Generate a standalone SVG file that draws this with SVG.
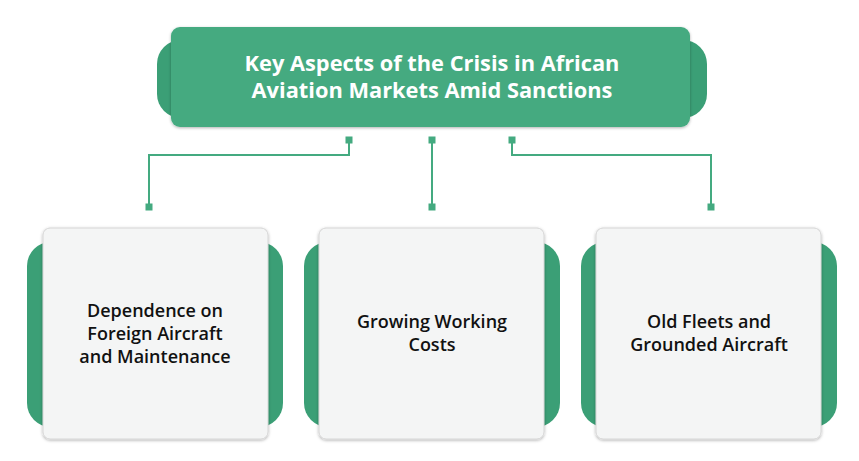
<svg xmlns="http://www.w3.org/2000/svg" width="859" height="461" viewBox="0 0 859 461">
<defs>
<filter id="sh" x="-10%" y="-10%" width="120%" height="125%">
<feDropShadow dx="0" dy="1" stdDeviation="1.5" flood-color="#000" flood-opacity="0.3"/>
</filter>
</defs>
<style>
.back{fill:#3b9f76;}
.title{fill:#44aa80;filter:url(#sh);}
.card{fill:#f4f5f5;stroke:#d6d6d6;stroke-width:1;filter:url(#sh);}
.tt{font-family:"Open Sans","Liberation Sans",sans-serif;font-weight:700;font-size:21.8px;fill:#ffffff;text-anchor:middle;}
.ct{font-family:"Open Sans","Liberation Sans",sans-serif;font-weight:600;font-size:18px;fill:#111111;text-anchor:middle;}
.ln{fill:none;stroke:#44aa80;stroke-width:2;}
.sq{fill:#44aa80;}
</style>
<rect width="859" height="461" fill="#ffffff"/>
<g id="title">
<rect class="back" x="157" y="40" width="550" height="78" rx="24"/>
<rect class="title" x="171" y="27" width="519" height="100" rx="9"/>
<text class="tt" x="432" y="71">Key Aspects of the Crisis in African</text>
<text class="tt" x="432" y="98">Aviation Markets Amid Sanctions</text>
</g>
<g id="connectors">
<path class="ln" d="M349 140 V155 H149 V207"/>
<path class="ln" d="M432 140 V207"/>
<path class="ln" d="M512 140 V155 H711 V207"/>
<rect class="sq" x="345.5" y="136.5" width="7" height="7"/>
<rect class="sq" x="428.5" y="136.5" width="7" height="7"/>
<rect class="sq" x="508.5" y="136.5" width="7" height="7"/>
<rect class="sq" x="145.5" y="203.5" width="7" height="7"/>
<rect class="sq" x="428.5" y="203.5" width="7" height="7"/>
<rect class="sq" x="707.5" y="203.5" width="7" height="7"/>
</g>
<g id="node1">
<rect class="back" x="27" y="242" width="256" height="185" rx="24"/>
<rect class="card" x="43" y="228" width="225" height="211" rx="7"/>
<text class="ct" x="155" y="317">Dependence on</text>
<text class="ct" x="155" y="340">Foreign Aircraft</text>
<text class="ct" x="155" y="363">and Maintenance</text>
</g>
<g id="node2">
<rect class="back" x="304" y="242" width="256" height="185" rx="24"/>
<rect class="card" x="319" y="228" width="225" height="211" rx="7"/>
<text class="ct" x="432" y="328">Growing Working</text>
<text class="ct" x="432" y="351">Costs</text>
</g>
<g id="node3">
<rect class="back" x="581" y="242" width="256" height="185" rx="24"/>
<rect class="card" x="596" y="228" width="225" height="211" rx="7"/>
<text class="ct" x="709" y="328">Old Fleets and</text>
<text class="ct" x="709" y="351">Grounded Aircraft</text>
</g>
</svg>
